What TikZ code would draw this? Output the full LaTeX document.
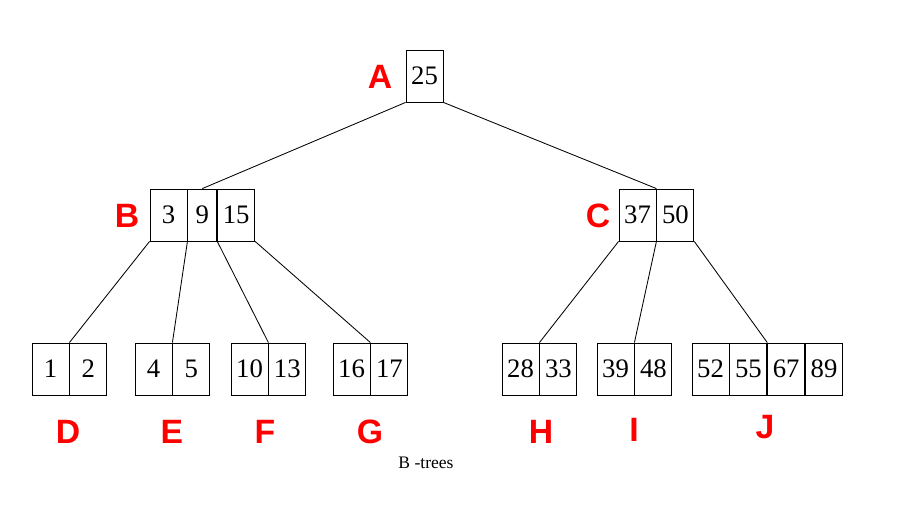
\documentclass[tikz,border=0pt]{standalone}
\usepackage{fontspec}
\setmainfont{Liberation Serif}
\newfontfamily\lblfont{Liberation Sans}
\usetikzlibrary{positioning}

\tikzset{
  cell/.style={draw, line width=0.6pt, inner sep=0pt, minimum width=0.925cm, minimum height=1.3cm,
    font=\fontsize{19}{21}\selectfont},
  narrow/.style={minimum width=0.725cm},
  tag/.style={text=red, font=\lblfont\bfseries\fontsize{24}{26}\selectfont},
  link/.style={line width=0.6pt}
}

\begin{document}
\begin{tikzpicture}[x=0.025cm, y=-0.025cm]
  \useasboundingbox (0,0) rectangle (920,512);

  % root and inner nodes
  \node[cell] (a1) at (424.5,76) {25};
  \node[cell] (b1) at (168.5,215) {3};
  \node[cell, narrow, right=0pt of b1] (b2) {9};
  \node[cell, right=0pt of b2] (b3) {15};
  \node[cell] (c1) at (637.5,215) {37};
  \node[cell, right=0pt of c1] (c2) {50};

  % leaves
  \node[cell] (d1) at (50.5,369) {1};
  \node[cell, right=0pt of d1] (d2) {2};
  \node[cell] (e1) at (153.5,369) {4};
  \node[cell, right=0pt of e1] (e2) {5};
  \node[cell] (f1) at (249.5,369) {10};
  \node[cell, right=0pt of f1] (f2) {13};
  \node[cell] (g1) at (351.5,369) {16};
  \node[cell, right=0pt of g1] (g2) {17};
  \node[cell] (h1) at (520.5,369) {28};
  \node[cell, right=0pt of h1] (h2) {33};
  \node[cell] (i1) at (615.5,369) {39};
  \node[cell, right=0pt of i1] (i2) {48};
  \node[cell] (j1) at (710.5,369) {52};
  \node[cell, right=0pt of j1] (j2) {55};
  \node[cell, right=0pt of j2] (j3) {67};
  \node[cell, right=0pt of j3] (j4) {89};

  % pointers
  \draw[link] (a1.south west) -- (b2.north);
  \draw[link] (a1.south east) -- (c1.north east);
  \draw[link] (b1.south west) -- (d1.north east);
  \draw[link] (b1.south east) -- (e1.north east);
  \draw[link] (b2.south east) -- (f1.north east);
  \draw[link] (b3.south east) -- (g1.north east);
  \draw[link] (c1.south west) -- (h1.north east);
  \draw[link] (c1.south east) -- (i1.north east);
  \draw[link] (c2.south east) -- (j2.north east);

  % node letters
  \foreach \t/\x/\y in {A/380/77, B/127/216, C/598/216, D/68/432, E/172/432,
      F/265/432, G/370/432, H/541/432, I/634/430, J/765/427}{
    \node[tag] (l\t) at (\x,\y) {\t};
  }

  \node[font=\fontsize{12.5}{14}\selectfont] (cap) at (426,463) {B -trees};
\end{tikzpicture}
\end{document}
